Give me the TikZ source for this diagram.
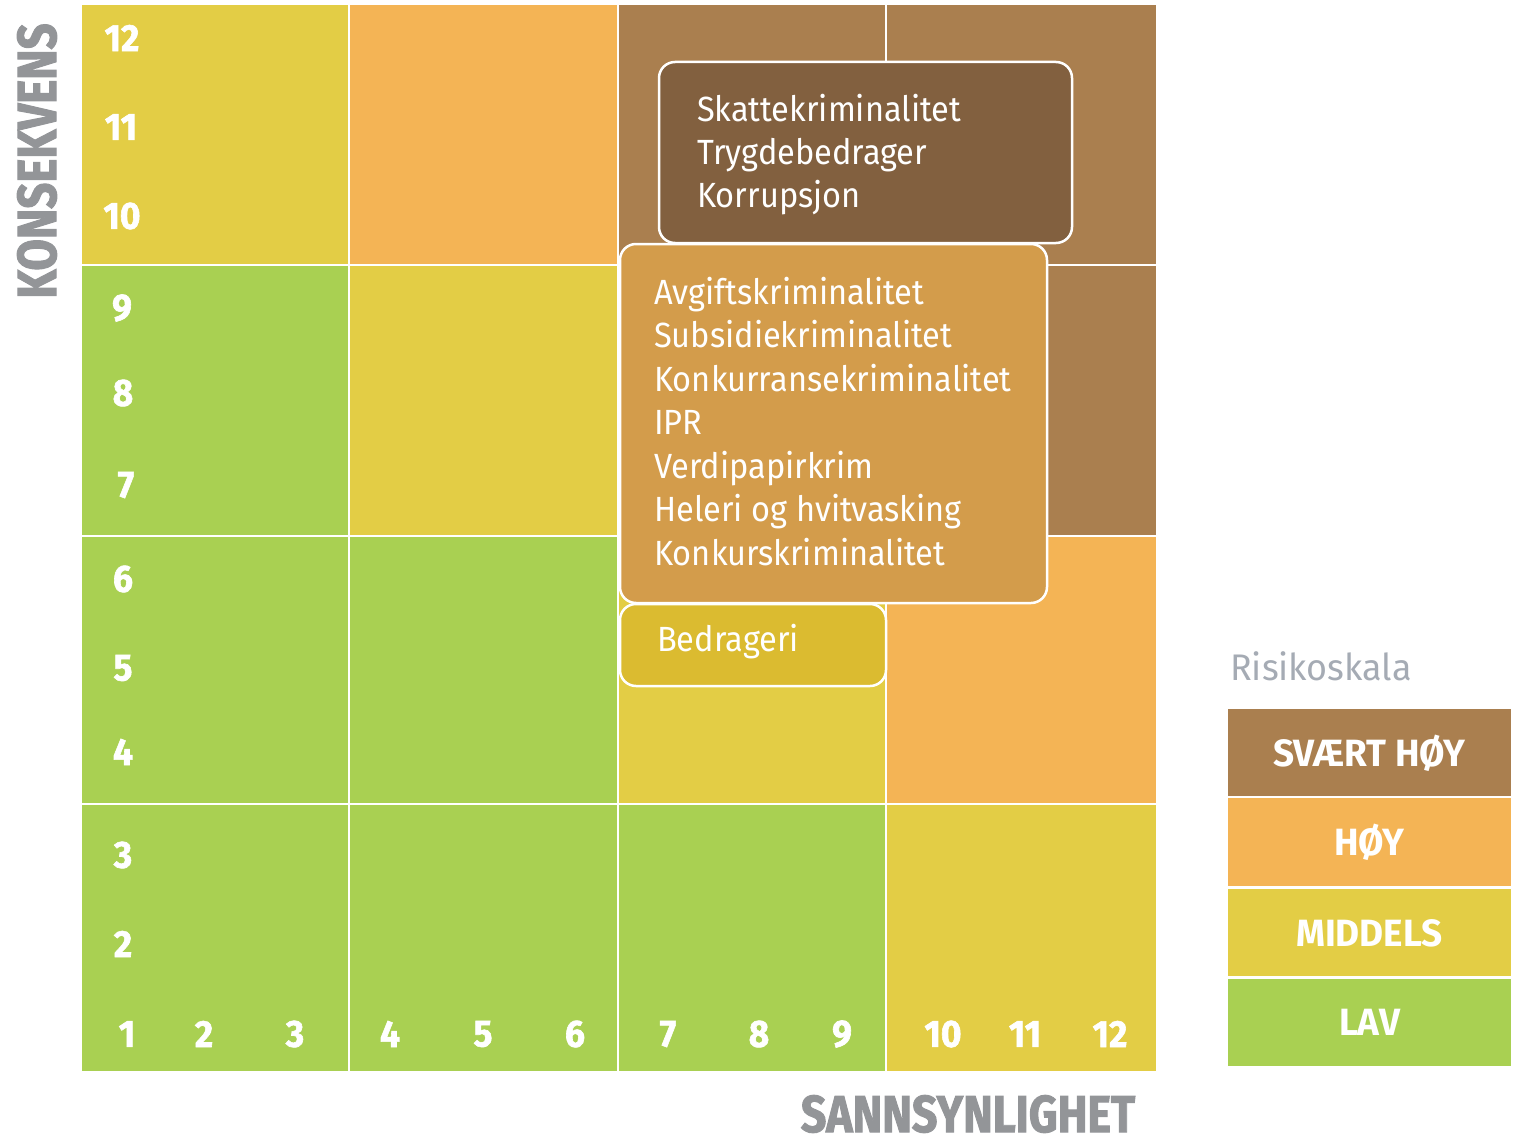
\documentclass[tikz,border=0pt]{standalone}
\usepackage{fontspec}
\setmainfont{Fira Sans}
\newfontfamily\txtf[FakeStretch=0.93]{Fira Sans}
\newfontfamily\legf[FakeStretch=0.97]{Fira Sans}
\newfontfamily\numf[FakeStretch=0.93, FakeBold=1.6]{Fira Sans}
\newfontfamily\axf[FakeStretch=0.83, FakeBold=1.8]{Fira Sans}
\newfontfamily\axg[FakeStretch=0.86, FakeBold=1.8]{Fira Sans}
\definecolor{cB}{HTML}{AA7F4F}
\definecolor{cO}{HTML}{F4B455}
\definecolor{cY}{HTML}{E3CD45}
\definecolor{cG}{HTML}{A9D052}
\definecolor{boxdark}{HTML}{82603F}
\definecolor{boxmid}{HTML}{D39C4B}
\definecolor{boxyel}{HTML}{DBBB30}
\definecolor{axgrey}{HTML}{939598}
\definecolor{legtitle}{HTML}{A5ABB4}
\tikzset{
  riskbox/.style={draw=white, line width=2.5pt, rounded corners=16pt, inner sep=0pt},
  boxtext/.style={anchor=base west, inner sep=0pt, text=white, font=\txtf\fontsize{35}{40}\selectfont},
  num/.style={inner sep=0pt, text=white, font=\numf\bfseries\fontsize{38}{38}\selectfont},
  axlabel/.style={inner sep=0pt, text=axgrey, font=\axf\bfseries\fontsize{55}{55}\selectfont},
  axlabelb/.style={inner sep=0pt, text=axgrey, font=\axg\bfseries\fontsize{52}{52}\selectfont},
  legbox/.style={inner sep=0pt, minimum width=283pt, text=white, font=\legf\bfseries\fontsize{38}{38}\selectfont},
  gridline/.style={white, line width=2.5pt}
}
\begin{document}
\begin{tikzpicture}[x=1pt,y=-1pt]
\useasboundingbox (0,0) rectangle (1517,1137);
% cells
\fill[cY] (82,5) rectangle (349,265);
\fill[cO] (349,5) rectangle (618,265);
\fill[cB] (618,5) rectangle (886,265);
\fill[cB] (886,5) rectangle (1156,265);
\fill[cG] (82,265) rectangle (349,536);
\fill[cY] (349,265) rectangle (618,536);
\fill[cB] (618,265) rectangle (886,536);
\fill[cB] (886,265) rectangle (1156,536);
\fill[cG] (82,536) rectangle (349,804);
\fill[cG] (349,536) rectangle (618,804);
\fill[cY] (618,536) rectangle (886,804);
\fill[cO] (886,536) rectangle (1156,804);
\fill[cG] (82,804) rectangle (349,1071);
\fill[cG] (349,804) rectangle (618,1071);
\fill[cG] (618,804) rectangle (886,1071);
\fill[cY] (886,804) rectangle (1156,1071);
% grid lines
\foreach \x in {349,618,886} \draw[gridline] (\x,5) -- (\x,1071);
\foreach \y in {265,536,804} \draw[gridline] (82,\y) -- (1156,\y);
% boxes
\node[riskbox, fill=boxdark, minimum width=413pt, minimum height=181pt] (bxA) at (865.5,152.5) {};
\node[riskbox, fill=boxmid, minimum width=427pt, minimum height=359pt] (bxB) at (833.5,423.5) {};
\node[riskbox, fill=boxyel, minimum width=266pt, minimum height=82pt] (bxC) at (753,645) {};
% box texts
\node[boxtext] (a1) at (697,122) {Skattekriminalitet};
\node[boxtext] (a2) at (697,164.5) {Trygdebedrager};
\node[boxtext] (a3) at (697,207) {Korrupsjon};
\node[boxtext] (b1) at (654,304) {Avgiftskriminalitet};
\node[boxtext] (b2) at (654,347) {Subsidiekriminalitet};
\node[boxtext] (b3) at (654,391) {Konkurransekriminalitet};
\node[boxtext] (b4) at (654,434) {IPR};
\node[boxtext] (b5) at (654,478) {Verdipapirkrim};
\node[boxtext] (b6) at (654,521) {Heleri og hvitvasking};
\node[boxtext] (b7) at (654,565) {Konkurskriminalitet};
\node[boxtext] (c1) at (657,651) {Bedrageri};
% row numbers
\foreach \n/\x/\y in {12/122/38,11/121/127,10/122/216,9/122/308,8/123/393,7/126/485,6/123/579,5/123/668,4/123/752,3/123/855,2/123/944}
  \node[num] (row\n) at (\x,\y) {\n};
% column numbers
\foreach \n/\x in {1/127,2/204,3/295,4/390,5/483,6/575,7/668,8/759,9/842,10/943,11/1025,12/1110}
  \node[num] (col\n) at (\x,1034) {\n};
% axis labels
\node[axlabel, rotate=90] (konsekvens) at (37,161) {KONSEKVENS};
\node[axlabelb] (sannsynlighet) at (968,1114) {SANNSYNLIGHET};
% legend
\node[anchor=base west, inner sep=0pt, text=legtitle, font=\legf\fontsize{37}{37}\selectfont] (legt) at (1230,680) {Risikoskala};
\node[legbox, fill=cB, minimum height=88pt] (l1) at (1369.5,753) {SVÆRT HØY};
\node[legbox, fill=cO, minimum height=89pt] (l2) at (1369.5,842.5) {HØY};
\node[legbox, fill=cY, minimum height=88pt] (l3) at (1369.5,933) {MIDDELS};
\node[legbox, fill=cG, minimum height=87pt] (l4) at (1369.5,1022.5) {LAV};
\draw[white, line width=2pt] (l1.south west) -- (l1.south east);
\draw[white, line width=2pt] (l2.south west) -- (l2.south east);
\draw[white, line width=2pt] (l3.south west) -- (l3.south east);
\end{tikzpicture}
\end{document}
